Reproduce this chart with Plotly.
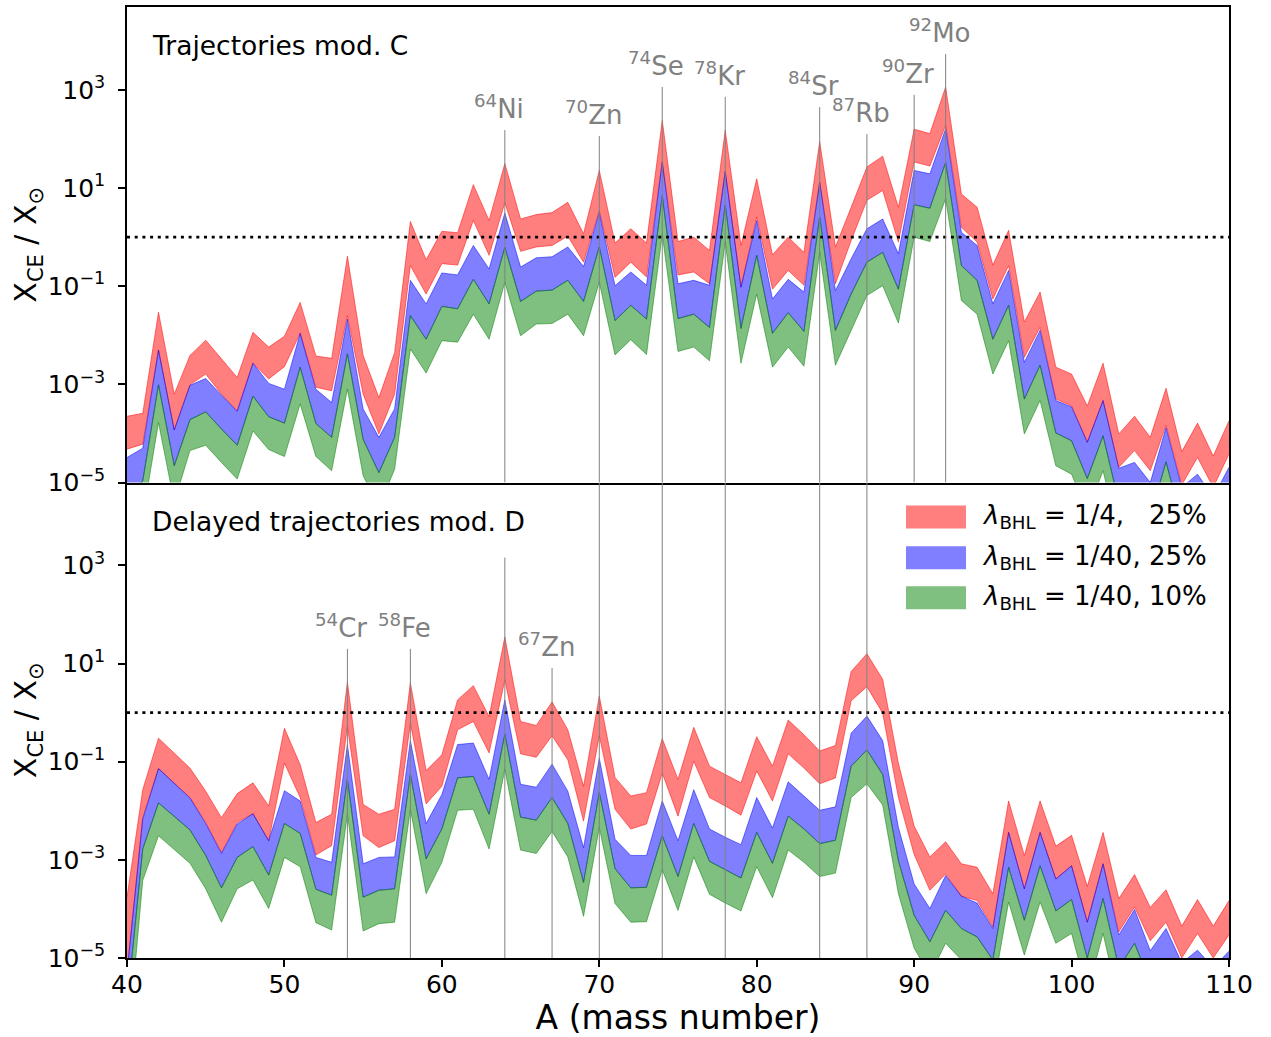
import numpy as np
import plotly.graph_objects as go

# ---------------- data (log10 of X_CE / X_sun) ----------------
A = list(range(40, 111))

# upper panel: "Trajectories mod. C"
top_red_hi = [-3.65, -3.59, -1.53, -3.20, -2.41, -2.10, -2.48, -2.86, -1.94, -2.24,
              -2.02, -1.33, -2.42, -2.47, -0.39, -2.41, -3.27, -2.35, 0.32, -0.46,
              0.12, 0.09, 1.07, 0.34, 1.50, 0.37, 0.46, 0.50, 0.71, 0.07,
              1.36, -0.12, 0.17, -0.12, 2.38, -0.09, 0.00, -0.27, 2.18, -0.17,
              1.19, -0.36, 0.00, -0.31, 1.95, -0.20, 0.61, 1.43, 1.65, 0.61,
              2.20, 2.11, 3.06, 0.88, 0.61, -0.57, 0.14, -1.73, -1.12, -2.65,
              -2.79, -3.44, -2.57, -4.01, -3.65, -4.08, -3.08, -4.37, -3.79, -4.46, -3.74]
top_red_lo = [-4.32, -4.22, -2.30, -3.93, -3.01, -2.79, -3.20, -3.54, -2.57, -2.89,
              -2.64, -1.96, -3.06, -3.13, -1.60, -3.20, -4.01, -3.20, -0.58, -1.16,
              -0.54, -0.57, 0.34, -0.37, 0.70, -0.29, -0.20, -0.17, 0.02, -0.51,
              0.54, -0.82, -0.51, -0.81, 1.53, -0.77, -0.71, -0.95, 1.34, -1.02,
              0.41, -1.06, -0.68, -0.98, 1.12, -0.95, -0.07, 0.75, 0.95, -0.10,
              1.53, 1.45, 2.28, 0.20, -0.10, -1.26, -0.58, -2.45, -1.84, -3.30,
              -3.44, -4.18, -3.33, -4.69, -4.35, -4.76, -3.83, -5.05, -4.49, -5.10, -4.42]
top_blue_hi = [-4.49, -4.30, -2.30, -3.93, -3.02, -2.88, -3.22, -3.55, -2.57, -2.98,
               -3.10, -1.96, -3.10, -3.37, -1.67, -3.50, -4.08, -3.50, -0.88, -1.36,
               -0.73, -0.77, -0.17, -0.65, 0.49, -0.61, -0.42, -0.40, -0.20, -0.60,
               0.50, -0.99, -0.71, -0.98, 1.53, -0.95, -0.88, -0.98, 1.34, -1.02,
               0.34, -1.26, -0.86, -1.12, 1.12, -1.09, -0.44, 0.17, 0.37, -0.34,
               1.36, 1.29, 2.21, 0.10, -0.17, -1.36, -0.68, -2.55, -1.90, -3.33,
               -3.46, -4.18, -3.33, -4.71, -4.59, -5.00, -3.88, -5.10, -4.83, -5.30, -4.69]
top_blue_lo = [-5.30, -4.97, -3.01, -4.66, -3.72, -3.56, -3.91, -4.24, -3.24, -3.66,
               -3.79, -2.65, -3.80, -4.08, -2.38, -4.12, -4.80, -4.08, -1.60, -2.08,
               -1.41, -1.46, -0.86, -1.36, -0.21, -1.31, -1.10, -1.08, -0.88, -1.31,
               -0.20, -1.70, -1.39, -1.67, 0.84, -1.66, -1.57, -1.84, 0.65, -1.86,
               -0.37, -1.96, -1.54, -1.92, 0.41, -1.90, -1.16, -0.51, -0.31, -1.06,
               0.66, 0.59, 1.52, -0.58, -0.88, -2.08, -1.39, -3.30, -2.61, -3.99,
               -4.15, -4.92, -4.05, -5.40, -5.31, -5.70, -4.58, -5.80, -5.55, -6.00, -5.40]
top_green_hi = list(top_blue_lo)
top_green_lo = [-6.00, -5.70, -3.78, -5.40, -4.35, -4.24, -4.59, -4.93, -3.95, -4.33,
                -4.47, -3.40, -4.47, -4.76, -3.10, -4.86, -5.50, -4.73, -2.28, -2.77,
                -2.11, -2.14, -1.57, -2.08, -0.92, -2.01, -1.77, -1.76, -1.57, -2.01,
                -0.92, -2.40, -2.09, -2.39, 0.05, -2.33, -2.24, -2.52, -0.10, -2.57,
                -1.16, -2.65, -2.24, -2.63, -0.31, -2.61, -1.90, -1.19, -0.99, -1.75,
                0.00, -0.09, 0.78, -1.29, -1.57, -2.79, -2.11, -4.01, -3.33, -4.66,
                -4.83, -5.60, -4.76, -6.10, -6.00, -6.40, -5.27, -6.50, -6.20, -6.70, -6.10]

# lower panel: "Delayed trajectories mod. D"
bot_red_hi = [-3.76, -1.57, -0.52, -0.82, -1.13, -1.60, -2.14, -1.65, -1.43, -1.90,
              -0.32, -1.06, -2.24, -2.07, 0.63, -1.87, -2.07, -1.97, 0.61, -1.18,
              -0.86, 0.26, 0.55, -0.08, 1.54, -0.18, -0.26, 0.22, -0.35, -1.50,
              0.34, -1.32, -1.70, -1.63, -0.53, -1.36, -0.30, -1.09, -1.26, -1.43,
              -0.49, -1.09, -0.15, -0.45, -0.78, -0.67, 0.84, 1.20, 0.68, -1.03,
              -2.31, -2.94, -2.63, -3.08, -3.15, -3.69, -1.80, -2.91, -1.80, -2.72,
              -2.50, -3.54, -2.44, -3.79, -3.30, -3.97, -3.61, -4.35, -3.81, -4.35, -3.83]
bot_red_lo = [-5.30, -2.14, -1.14, -1.43, -1.73, -2.24, -2.85, -2.24, -2.06, -2.61,
              -1.03, -1.73, -2.90, -2.71, -0.28, -2.51, -2.75, -2.61, -0.22, -1.86,
              -1.50, -0.35, -0.18, -0.82, 0.66, -0.84, -0.91, -0.47, -0.96, -2.21,
              -0.47, -1.97, -2.37, -2.27, -1.23, -2.11, -0.99, -1.73, -1.90, -2.09,
              -1.19, -1.80, -0.84, -1.13, -1.45, -1.33, 0.24, 0.53, -0.01, -1.73,
              -2.89, -3.62, -3.29, -3.74, -3.83, -4.37, -2.44, -3.59, -2.44, -3.39,
              -3.12, -4.27, -3.08, -4.47, -3.96, -4.65, -4.27, -5.00, -4.50, -5.00, -4.53]
bot_blue_hi = [-5.30, -2.17, -1.14, -1.45, -1.74, -2.26, -2.87, -2.27, -2.06, -2.61,
               -1.59, -1.80, -2.95, -3.05, -0.65, -3.08, -2.95, -2.94, -0.57, -2.26,
               -1.67, -0.65, -0.62, -1.36, 0.26, -1.46, -1.52, -1.05, -1.60, -2.75,
               -0.93, -2.58, -2.91, -2.91, -1.80, -2.61, -1.57, -2.37, -2.54, -2.69,
               -1.73, -2.35, -1.41, -1.70, -1.99, -1.92, -0.42, -0.07, -0.57, -2.34,
               -3.49, -3.99, -3.32, -3.74, -3.88, -4.40, -2.44, -3.59, -2.44, -3.39,
               -3.12, -4.27, -3.08, -4.53, -4.01, -4.85, -4.40, -5.10, -4.84, -5.20, -4.86]
bot_blue_lo = [-6.00, -2.78, -1.84, -2.11, -2.39, -2.91, -3.57, -2.95, -2.73, -3.31,
               -2.26, -2.46, -3.60, -3.72, -1.36, -3.76, -3.62, -3.59, -1.26, -2.98,
               -2.37, -1.33, -1.30, -2.07, -0.44, -2.13, -2.19, -1.73, -2.26, -3.46,
               -1.63, -3.18, -3.57, -3.56, -2.51, -3.34, -2.26, -3.03, -3.20, -3.37,
               -2.44, -3.07, -2.11, -2.37, -2.67, -2.60, -1.09, -0.76, -1.26, -3.02,
               -4.13, -4.67, -4.03, -4.40, -4.57, -5.04, -3.15, -4.23, -3.12, -4.04,
               -3.81, -5.00, -3.79, -5.20, -4.70, -5.50, -5.10, -5.80, -5.50, -5.90, -5.50]
bot_green_hi = list(bot_blue_lo)
bot_green_lo = [-7.00, -3.42, -2.51, -2.78, -3.07, -3.59, -4.27, -3.59, -3.41, -3.99,
                -2.95, -3.14, -4.28, -4.43, -2.07, -4.45, -4.30, -4.27, -1.97, -3.69,
                -3.05, -1.99, -1.97, -2.78, -1.16, -2.80, -2.87, -2.42, -2.94, -4.15,
                -2.34, -3.89, -4.27, -4.26, -3.20, -4.03, -2.94, -3.70, -3.88, -4.04,
                -3.14, -3.77, -2.80, -3.05, -3.34, -3.27, -1.73, -1.45, -1.88, -3.69,
                -4.80, -5.35, -4.70, -5.04, -5.30, -5.70, -3.86, -4.94, -3.86, -4.70,
                -4.50, -5.70, -4.50, -5.90, -5.40, -6.20, -5.80, -6.50, -6.20, -6.60, -6.20]

# isotope markers (mass number, top of marker line in log10, label)
top_iso_A = [64, 70, 74, 78, 84, 87, 90, 92]
top_iso_top = [2.18, 2.06, 3.06, 2.86, 2.65, 2.10, 2.90, 3.73]
top_iso_lbl = ["<sup>64</sup>Ni", "<sup>70</sup>Zn", "<sup>74</sup>Se", "<sup>78</sup>Kr",
               "<sup>84</sup>Sr", "<sup>87</sup>Rb", "<sup>90</sup>Zr", "<sup>92</sup>Mo"]
bot_iso_A = [54, 58, 64, 67]
bot_iso_top = [1.30, 1.30, 3.16, 0.91]
bot_iso_lbl = ["<sup>54</sup>Cr", "<sup>58</sup>Fe", "", "<sup>67</sup>Zn"]
bot_full_A = [70, 74, 78, 84, 87]

legend_labels = ["<i>λ</i><sub>BHL</sub> = 1/4,\u00a0\u00a0\u00a025%",
                 "<i>λ</i><sub>BHL</sub> = 1/40, 25%",
                 "<i>λ</i><sub>BHL</sub> = 1/40, 10%"]

y_tick_vals = [1e-5, 1e-3, 1e-1, 1e1, 1e3]
y_tick_text = ["10<sup>−5</sup>", "10<sup>−3</sup>", "10<sup>−1</sup>", "10<sup>1</sup>", "10<sup>3</sup>"]
x_tick_vals = [40, 50, 60, 70, 80, 90, 100, 110]

YMIN, YMAX = -5.0, 4.69

# ---------------- styling ----------------
FONT = "DejaVu Sans"
W, H = 1271, 1037
PL, PR, PT, PB = 127, 1229, 5, 958
RED = "rgba(255,0,0,0.5)"
BLUE = "rgba(0,0,255,0.5)"
GREEN = "rgba(0,128,0,0.5)"
GREY = "rgb(128,128,128)"


def px(x):
    return (x - PL) / (PR - PL)


def py(y):
    return (PB - y) / (PB - PT)


fig = go.Figure()


def add_band(lo, hi, color, xa, ya):
    lo_v = np.power(10.0, np.array(lo))
    hi_v = np.power(10.0, np.array(hi))
    fig.add_trace(go.Scatter(x=A, y=lo_v, mode="lines", line=dict(color=color, width=1),
                             xaxis=xa, yaxis=ya, showlegend=False, hoverinfo="skip"))
    fig.add_trace(go.Scatter(x=A, y=hi_v, mode="lines", line=dict(color=color, width=1),
                             fill="tonexty", fillcolor=color,
                             xaxis=xa, yaxis=ya, showlegend=False, hoverinfo="skip"))


add_band(top_red_lo, top_red_hi, RED, "x", "y")
add_band(top_blue_lo, top_blue_hi, BLUE, "x", "y")
add_band(top_green_lo, top_green_hi, GREEN, "x", "y")
add_band(bot_red_lo, bot_red_hi, RED, "x2", "y2")
add_band(bot_blue_lo, bot_blue_hi, BLUE, "x2", "y2")
add_band(bot_green_lo, bot_green_hi, GREEN, "x2", "y2")

# dotted unity lines
for xa, ya in (("x", "y"), ("x2", "y2")):
    fig.add_trace(go.Scatter(x=[A[0], A[-1]], y=[1.0, 1.0], mode="lines",
                             line=dict(color="black", width=2.6, dash="3px,4.7px"),
                             xaxis=xa, yaxis=ya, showlegend=False, hoverinfo="skip"))

# isotope marker lines
for a, t in zip(top_iso_A, top_iso_top):
    fig.add_trace(go.Scatter(x=[a, a], y=[10 ** YMIN, 10 ** t], mode="lines",
                             line=dict(color=GREY, width=1), xaxis="x", yaxis="y",
                             showlegend=False, hoverinfo="skip"))
for a, t in zip(bot_iso_A, bot_iso_top):
    fig.add_trace(go.Scatter(x=[a, a], y=[10 ** YMIN, 10 ** t], mode="lines",
                             line=dict(color=GREY, width=1), xaxis="x2", yaxis="y2",
                             showlegend=False, hoverinfo="skip"))
for a in bot_full_A:
    fig.add_trace(go.Scatter(x=[a, a], y=[10 ** YMIN, 10 ** YMAX], mode="lines",
                             line=dict(color=GREY, width=1), xaxis="x2", yaxis="y2",
                             showlegend=False, hoverinfo="skip"))

annotations = []
for a, t, lbl in zip(top_iso_A, top_iso_top, top_iso_lbl):
    annotations.append(dict(x=a, y=t, xref="x", yref="y", text=lbl, showarrow=False,
                            xanchor="center", yanchor="bottom", xshift=-6, yshift=4,
                            font=dict(family=FONT, size=26, color=GREY)))
for a, t, lbl in zip(bot_iso_A, bot_iso_top, bot_iso_lbl):
    if lbl:
        annotations.append(dict(x=a, y=t, xref="x2", yref="y2", text=lbl, showarrow=False,
                                xanchor="center", yanchor="bottom", xshift=-6, yshift=4,
                                font=dict(family=FONT, size=26, color=GREY)))

annotations.append(dict(x=px(150), y=py(44), xref="paper", yref="paper",
                        text="Trajectories mod. C", showarrow=False,
                        xanchor="left", yanchor="middle",
                        font=dict(family=FONT, size=26.5, color="black")))
annotations.append(dict(x=px(150), y=py(521), xref="paper", yref="paper",
                        text="Delayed trajectories mod. D", showarrow=False,
                        xanchor="left", yanchor="middle",
                        font=dict(family=FONT, size=26.5, color="black")))

shapes = []
leg_rows = [516, 557, 597]
for yc, col, lbl in zip(leg_rows, [RED, BLUE, GREEN], legend_labels):
    shapes.append(dict(type="rect", xref="paper", yref="paper",
                       x0=px(906), x1=px(966), y0=py(yc + 11.5), y1=py(yc - 11.5),
                       fillcolor=col, line=dict(width=0)))
    annotations.append(dict(x=px(980), y=py(yc), xref="paper", yref="paper", text=lbl,
                            showarrow=False, xanchor="left", yanchor="middle",
                            font=dict(family=FONT, size=26, color="black")))

axis_common = dict(showline=True, linecolor="black", linewidth=1.5,
                   showgrid=False, zeroline=False)
ytitle = "X<sub>CE</sub> / X<sub>⊙</sub>"

fig.update_layout(
    width=W, height=H,
    margin=dict(l=PL, r=W - PR, t=PT, b=H - PB, pad=0),
    plot_bgcolor="white", paper_bgcolor="white",
    font=dict(family=FONT, size=25, color="black"),
    showlegend=False,
    xaxis=dict(domain=[0, 1], anchor="y", range=[40, 110], showticklabels=False,
               ticks="", mirror=True, **axis_common),
    yaxis=dict(domain=[0.5, 1], anchor="x", type="log", range=[YMIN, YMAX],
               tickvals=y_tick_vals, ticktext=y_tick_text, ticks="outside", ticklen=7,
               tickwidth=1.5, tickcolor="black", tickfont=dict(size=25), mirror=True,
               ticklabelstandoff=8,
               title=dict(text=ytitle, font=dict(size=30), standoff=0), **axis_common),
    xaxis2=dict(domain=[0, 1], anchor="y2", range=[40, 110], tickvals=x_tick_vals,
                ticks="outside", ticklen=7, tickwidth=1.5, tickcolor="black",
                tickfont=dict(size=25), mirror=False, ticklabelstandoff=-4,
                title=dict(text="A (mass number)", font=dict(size=33), standoff=8),
                **axis_common),
    yaxis2=dict(domain=[0, 0.5], anchor="x2", type="log", range=[YMIN, YMAX],
                tickvals=y_tick_vals, ticktext=y_tick_text, ticks="outside", ticklen=7,
                tickwidth=1.5, tickcolor="black", tickfont=dict(size=25), mirror=True,
                ticklabelstandoff=8,
                title=dict(text=ytitle, font=dict(size=30), standoff=0), **axis_common),
    annotations=annotations,
    shapes=shapes,
)

fig.write_html("out.html", config={"displayModeBar": False},
               post_script="document.body.style.margin='0';")
